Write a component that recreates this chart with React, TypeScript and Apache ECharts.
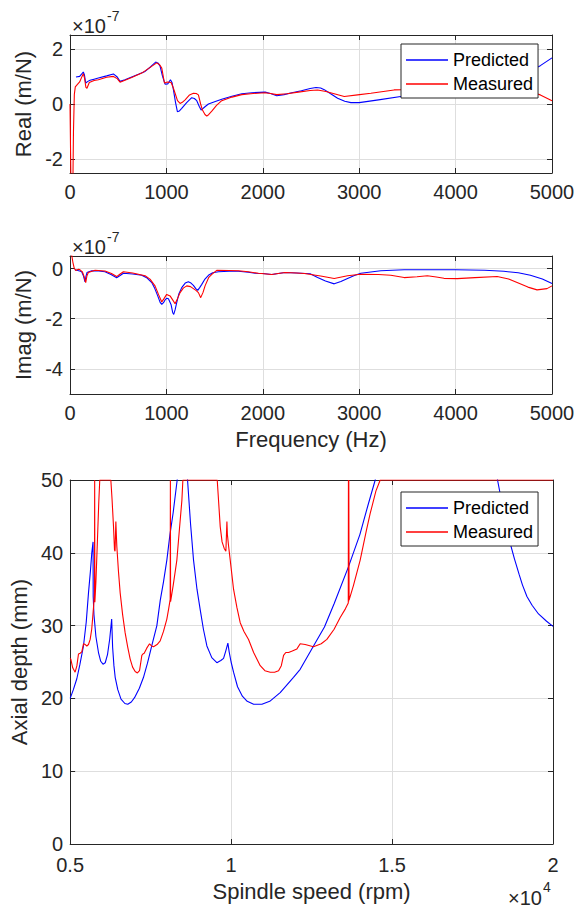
import React, { useEffect, useRef } from "react";
import * as echarts from "echarts";

// Frequency response, real part (values in units of 1e-7 m/N)
const realPredHz = [62, 100, 120, 138, 150, 163, 185, 208, 250, 294, 380, 450, 490, 519, 570, 640, 710, 779, 840, 889, 915, 934, 960, 986, 1014, 1042, 1058, 1073, 1095, 1114, 1135, 1159, 1210, 1263, 1290, 1315, 1340, 1360, 1400, 1436, 1500, 1574, 1680, 1782, 1886, 2024, 2080, 2145, 2220, 2301, 2400, 2491, 2552, 2600, 2638, 2700, 2776, 2850, 2914, 3000, 3200, 3431, 3600, 3800, 4000, 4200, 4400, 4600, 4800, 4879, 5000];
const realPredVal = [0.98, 1.0, 1.08, 1.16, 1.05, 0.76, 0.82, 0.86, 0.9, 0.94, 1.02, 1.09, 0.98, 0.82, 0.88, 0.98, 1.08, 1.18, 1.36, 1.52, 1.48, 1.37, 1.0, 0.72, 0.73, 0.88, 0.78, 0.51, 0.05, -0.28, -0.25, -0.16, 0.05, 0.23, 0.2, 0.12, -0.08, -0.22, -0.1, 0.0, 0.08, 0.17, 0.28, 0.37, 0.41, 0.43, 0.38, 0.3, 0.34, 0.41, 0.48, 0.56, 0.6, 0.58, 0.52, 0.38, 0.21, 0.1, 0.05, 0.05, 0.15, 0.27, 0.33, 0.4, 0.48, 0.6, 0.76, 0.98, 1.25, 1.39, 1.67];
const realMeasHz = [0, 12, 28, 36, 45, 55, 75, 100, 125, 138, 150, 165, 176, 200, 250, 294, 380, 450, 490, 519, 570, 640, 744, 820, 900, 930, 952, 980, 1010, 1049, 1070, 1090, 1115, 1142, 1165, 1194, 1240, 1280, 1310, 1332, 1355, 1374, 1400, 1419, 1440, 1471, 1520, 1574, 1680, 1782, 1900, 2024, 2080, 2145, 2250, 2370, 2491, 2569, 2655, 2750, 2845, 2983, 3121, 3362, 3450, 3600, 3800, 4000, 4200, 4400, 4600, 4800, 4879, 5000];
const realMeasVal = [0, -3.5, -3.5, -1.0, 0.35, 0.62, 0.7, 0.8, 1.0, 1.1, 0.95, 0.6, 0.57, 0.78, 0.85, 0.88, 0.97, 1.0, 0.92, 0.79, 0.86, 0.96, 1.12, 1.3, 1.49, 1.42, 1.3, 0.76, 0.8, 0.78, 0.6, 0.39, 0.12, 0.02, 0.06, 0.15, 0.33, 0.39, 0.38, 0.33, 0.0, -0.22, -0.38, -0.44, -0.38, -0.26, -0.05, 0.12, 0.25, 0.34, 0.38, 0.41, 0.38, 0.34, 0.37, 0.43, 0.49, 0.51, 0.45, 0.36, 0.27, 0.33, 0.39, 0.51, 0.52, 0.55, 0.5, 0.52, 0.5, 0.55, 0.5, 0.42, 0.33, 0.12];

// Frequency response, imaginary part (values in units of 1e-7 m/N)
const imagPredHz = [50, 100, 121, 140, 156, 166, 176, 225, 300, 363, 430, 484, 520, 554, 650, 744, 800, 848, 880, 910, 935, 952, 970, 986, 1005, 1021, 1048, 1065, 1076, 1090, 1107, 1130, 1159, 1195, 1228, 1255, 1280, 1305, 1325, 1345, 1367, 1400, 1436, 1480, 1540, 1650, 1747, 1850, 1920, 2000, 2093, 2160, 2232, 2350, 2491, 2569, 2650, 2741, 2810, 2879, 2950, 3017, 3224, 3466, 4000, 4300, 4500, 4650, 4776, 4900, 5000];
const imagPredVal = [-0.05, -0.1, -0.13, -0.3, -0.53, -0.3, -0.16, -0.09, -0.1, -0.13, -0.25, -0.37, -0.28, -0.19, -0.22, -0.27, -0.38, -0.56, -0.8, -1.09, -1.35, -1.43, -1.36, -1.25, -1.18, -1.2, -1.43, -1.75, -1.83, -1.65, -1.36, -1.0, -0.76, -0.58, -0.53, -0.58, -0.67, -0.8, -0.87, -0.76, -0.63, -0.42, -0.27, -0.17, -0.13, -0.11, -0.11, -0.15, -0.19, -0.2, -0.24, -0.2, -0.16, -0.18, -0.21, -0.36, -0.5, -0.61, -0.52, -0.4, -0.28, -0.19, -0.09, -0.05, -0.05, -0.07, -0.11, -0.17, -0.27, -0.42, -0.6];
const imagMeasHz = [0, 15, 30, 45, 60, 75, 90, 104, 128, 145, 163, 175, 190, 260, 363, 430, 484, 520, 554, 650, 779, 830, 882, 920, 952, 975, 1003, 1038, 1065, 1090, 1115, 1142, 1175, 1211, 1250, 1280, 1310, 1332, 1356, 1380, 1401, 1440, 1471, 1522, 1650, 1747, 1850, 1955, 2093, 2160, 2232, 2350, 2431, 2600, 2741, 2879, 3017, 3200, 3328, 3466, 3600, 3707, 3800, 3879, 4017, 4200, 4431, 4550, 4638, 4750, 4845, 4948, 5000];
const imagMeasVal = [1.0, 0.6, 0.25, 0.0, -0.08, -0.05, -0.03, -0.05, -0.13, -0.3, -0.56, -0.3, -0.16, -0.07, -0.1, -0.2, -0.32, -0.22, -0.13, -0.18, -0.29, -0.42, -0.69, -1.05, -1.33, -1.2, -1.03, -1.09, -1.25, -1.4, -1.2, -0.96, -0.78, -0.69, -0.72, -0.8, -0.88, -0.96, -1.16, -0.95, -0.69, -0.35, -0.23, -0.07, -0.08, -0.09, -0.13, -0.19, -0.24, -0.2, -0.16, -0.18, -0.2, -0.3, -0.4, -0.29, -0.23, -0.24, -0.27, -0.36, -0.33, -0.29, -0.34, -0.39, -0.4, -0.36, -0.32, -0.42, -0.56, -0.74, -0.85, -0.8, -0.69];

// Stability lobes: spindle speed (rpm) vs axial depth (mm)
const lobePredRpm = [5000, 5100, 5207, 5300, 5414, 5500, 5570, 5630, 5673, 5712, 5716, 5740, 5800, 5880, 5950, 6020, 6090, 6160, 6230, 6290, 6320, 6360, 6399, 6480, 6580, 6700, 6790, 6900, 7000, 7150, 7279, 7400, 7550, 7694, 7800, 7900, 8004, 8100, 8200, 8325, 8450, 8560, 8647, 8740, 8833, 8940, 9040, 9140, 9248, 9400, 9558, 9680, 9766, 9840, 9900, 9940, 10000, 10076, 10200, 10350, 10500, 10700, 10957, 11200, 11525, 11938, 12146, 12560, 12900, 13200, 13648, 14000, 14250, 14477, 14600, 18150, 18277, 18450, 18550, 18671, 18800, 18950, 19050, 19190, 19350, 19550, 19800, 20000];
const lobePredMm = [20.0, 21.2, 22.7, 24.6, 27.2, 30.5, 34.5, 37.5, 40, 41.5, 34, 31.5, 28.5, 26.3, 25.1, 24.7, 24.9, 26, 28.2, 30.9, 27, 24.5, 22.9, 21.2, 19.9, 19.3, 19.2, 19.5, 20.1, 21.4, 22.9, 24.8, 27.5, 30.0, 33.5, 36.0, 39.0, 42.5, 45.5, 50, 58, 58, 50, 44, 39, 35, 32.2, 29.5, 27.2, 25.6, 24.9, 25.2, 25.5, 26.6, 27.6, 26.4, 25, 23.6, 21.6, 20.3, 19.6, 19.2, 19.2, 19.6, 20.8, 22.9, 24.0, 27.2, 29.8, 33.0, 38.1, 42.5, 46.5, 50, 58, 58, 50, 46, 43.8, 41.3, 39.2, 37, 35.6, 34.0, 32.8, 31.6, 30.6, 29.9];
const lobeMeasRpm = [5000, 5020, 5080, 5155, 5210, 5259, 5310, 5362, 5414, 5470, 5518, 5570, 5622, 5670, 5704, 5735, 5756, 5762, 5768, 5800, 5850, 5890, 5920, 6264, 6300, 6347, 6378, 6395, 6420, 6435, 6450, 6500, 6554, 6630, 6709, 6790, 6865, 6940, 7020, 7090, 7155, 7190, 7227, 7260, 7300, 7380, 7466, 7530, 7590, 7700, 7797, 7900, 8004, 8060, 8108, 8114, 8120, 8200, 8315, 8400, 8471, 8502, 9569, 9620, 9662, 9720, 9786, 9838, 9870, 9885, 9920, 9973, 10076, 10180, 10283, 10400, 10542, 10700, 10905, 11050, 11216, 11350, 11475, 11560, 11630, 11700, 11786, 11900, 12045, 12146, 12300, 12560, 12800, 12975, 13200, 13389, 13550, 13640, 13645, 13652, 13657, 13665, 13800, 14010, 14200, 14321, 14500, 14632, 20000];
const lobeMeasMm = [25.5, 25.4, 24.2, 23.6, 24.5, 26.1, 26.2, 26.4, 27.5, 27.4, 27.2, 27.4, 28.1, 29.5, 31.3, 33, 34.5, 50, 33.2, 36, 42, 47, 50, 50, 47.5, 43.6, 40.4, 40.2, 44.3, 42.5, 40.9, 37.5, 34.5, 31.5, 29, 27, 25.4, 24.3, 23.7, 23.5, 23.8, 24.8, 25.9, 26.1, 26.2, 26.9, 27.5, 27.2, 27.1, 27.4, 27.9, 29.2, 30.9, 32.3, 33.6, 50, 33.3, 35.5, 39, 43.5, 47.2, 50, 50, 46.5, 43.6, 41.5, 40.6, 40.2, 44.3, 42.5, 41, 39, 35, 32.5, 30.4, 29.2, 28.1, 26.3, 24.5, 23.8, 23.6, 23.6, 23.8, 24.5, 25.9, 26.3, 26.3, 26.5, 26.8, 27.5, 27.4, 27.1, 27.5, 28.1, 29.5, 31.1, 32.3, 33.1, 50, 33.3, 50, 33.5, 35.5, 39, 43, 45.4, 48.5, 50, 50];

const freqTicks = [0, 1000, 2000, 3000, 4000, 5000];
const realTicks = [-2, 0, 2];
const imagTicks = [-4, -2, 0];
const depthTicks = [0, 10, 20, 30, 40, 50];
const speedTicks = [5000, 10000, 15000, 20000];
const seriesNames = ["Predicted", "Measured"];

const zip = (xs: number[], ys: number[]) => xs.map((x, i) => [x, ys[i]]);

const FONT = "'Liberation Sans', Arial, Helvetica, sans-serif";
const TXT = "#262626";
const AX = "#262626";
const GRIDC = "#dedede";
const TICK_FS = 20;
const NAME_FS = 22;

function App() {
  const ref = useRef<HTMLDivElement>(null);
  useEffect(() => {
    document.body.style.margin = "0";
    if (!ref.current) return;
    const chart = echarts.init(ref.current, undefined, { renderer: "svg" });

    const grids = [
      { left: 70, top: 35, width: 482, height: 138 },
      { left: 70, top: 256, width: 482, height: 138 },
      { left: 70, top: 480, width: 483, height: 364 },
    ];

    const baseX = (gi: number, min: number, max: number, ticks: number[], fmt: (v: number) => string, name: string, nameGap: number, labelMargin: number) => ({
      type: "value",
      gridIndex: gi,
      min,
      max,
      position: "bottom",
      name,
      nameLocation: "middle",
      nameGap,
      nameTextStyle: { fontFamily: FONT, fontSize: NAME_FS, color: TXT },
      axisLine: { show: true, onZero: false, lineStyle: { color: AX, width: 1 } },
      axisTick: { show: true, inside: true, length: 5, customValues: ticks, lineStyle: { color: AX } },
      axisLabel: { show: true, customValues: ticks, margin: labelMargin, fontFamily: FONT, fontSize: TICK_FS, color: TXT, formatter: fmt, showMinLabel: true, showMaxLabel: true },
      splitLine: { show: true, lineStyle: { color: GRIDC, width: 1 } },
    });
    const topX = (gi: number, min: number, max: number, ticks: number[]) => ({
      type: "value",
      gridIndex: gi,
      min,
      max,
      position: "top",
      axisLine: { show: true, onZero: false, lineStyle: { color: AX, width: 1 } },
      axisTick: { show: true, inside: true, length: 5, customValues: ticks, lineStyle: { color: AX } },
      axisLabel: { show: false },
      splitLine: { show: false },
    });
    const leftY = (gi: number, min: number, max: number, ticks: number[], name: string, nameGap: number) => ({
      type: "value",
      gridIndex: gi,
      min,
      max,
      position: "left",
      name,
      nameLocation: "middle",
      nameGap,
      nameTextStyle: { fontFamily: FONT, fontSize: NAME_FS, color: TXT },
      axisLine: { show: true, onZero: false, lineStyle: { color: AX, width: 1 } },
      axisTick: { show: true, inside: true, length: 5, customValues: ticks, lineStyle: { color: AX } },
      axisLabel: { show: true, customValues: ticks, margin: 7, fontFamily: FONT, fontSize: TICK_FS, color: TXT },
      splitLine: { show: true, lineStyle: { color: GRIDC, width: 1 } },
    });
    const rightY = (gi: number, min: number, max: number, ticks: number[]) => ({
      type: "value",
      gridIndex: gi,
      min,
      max,
      position: "right",
      axisLine: { show: true, onZero: false, lineStyle: { color: AX, width: 1 } },
      axisTick: { show: true, inside: true, length: 5, customValues: ticks, lineStyle: { color: AX } },
      axisLabel: { show: false },
      splitLine: { show: false },
    });

    const plain = (v: number) => String(v);
    const speedFmt = (v: number) => String(v / 10000);

    const lineSeries = (name: string, color: string, xi: number, yi: number, data: number[][]) => ({
      type: "line",
      name,
      xAxisIndex: xi,
      yAxisIndex: yi,
      data,
      symbol: "none",
      showSymbol: false,
      clip: true,
      lineStyle: { color, width: 1.1 },
      itemStyle: { color },
      z: name === "Measured" ? 3 : 2,
    });

    const legendBase = {
      data: seriesNames.map((n) => ({ name: n, icon: "rect" })),
      orient: "vertical",
      left: 401,
      icon: "rect",
      itemWidth: 42,
      itemHeight: 1.4,
      itemGap: 6,
      padding: [7, 5, 5, 5],
      borderColor: AX,
      borderWidth: 1,
      backgroundColor: "#ffffff",
      textStyle: { fontFamily: FONT, fontSize: 18, color: "#000000" },
      selectedMode: false,
    };

    const txt = (x: number, y: number, text: string, size: number) => ({
      type: "text",
      x,
      y,
      style: { text, font: `${size}px ${FONT}`, fill: TXT, align: "left", verticalAlign: "middle" },
      z: 10,
    });

    chart.setOption({
      animation: false,
      backgroundColor: "#ffffff",
      grid: grids,
      xAxis: [
        baseX(0, 0, 5000, freqTicks, plain, "", 30, 9),
        baseX(1, 0, 5000, freqTicks, plain, "Frequency (Hz)", 34, 9),
        baseX(2, 5000, 20000, speedTicks, speedFmt, "Spindle speed (rpm)", 36, 11),
        topX(0, 0, 5000, freqTicks),
        topX(1, 0, 5000, freqTicks),
        topX(2, 5000, 20000, speedTicks),
      ],
      yAxis: [
        leftY(0, -2.5, 2.5, realTicks, "Real (m/N)", 29),
        leftY(1, -5, 0.5, imagTicks, "Imag (m/N)", 29),
        leftY(2, 0, 50, depthTicks, "Axial depth (mm)", 29),
        rightY(0, -2.5, 2.5, realTicks),
        rightY(1, -5, 0.5, imagTicks),
        rightY(2, 0, 50, depthTicks),
      ],
      legend: [
        { ...legendBase, top: 44 },
        { ...legendBase, top: 492 },
      ],
      series: [
        lineSeries("Predicted", "#0000ff", 0, 0, zip(realPredHz, realPredVal)),
        lineSeries("Measured", "#ff0000", 0, 0, zip(realMeasHz, realMeasVal)),
        lineSeries("Predicted", "#0000ff", 1, 1, zip(imagPredHz, imagPredVal)),
        lineSeries("Measured", "#ff0000", 1, 1, zip(imagMeasHz, imagMeasVal)),
        lineSeries("Predicted", "#0000ff", 2, 2, zip(lobePredRpm, lobePredMm)),
        lineSeries("Measured", "#ff0000", 2, 2, zip(lobeMeasRpm, lobeMeasMm)),
      ],
      graphic: [
        txt(72, 26, "×10", 20),
        txt(107, 16, "-7", 14),
        txt(72, 247, "×10", 20),
        txt(107, 237, "-7", 14),
        txt(508, 898, "×10", 20),
        txt(543, 887, "4", 14),
      ],
    });
    return () => chart.dispose();
  }, []);
  return <div ref={ref} style={{ width: 585, height: 908 }} />;
}

export default App;
